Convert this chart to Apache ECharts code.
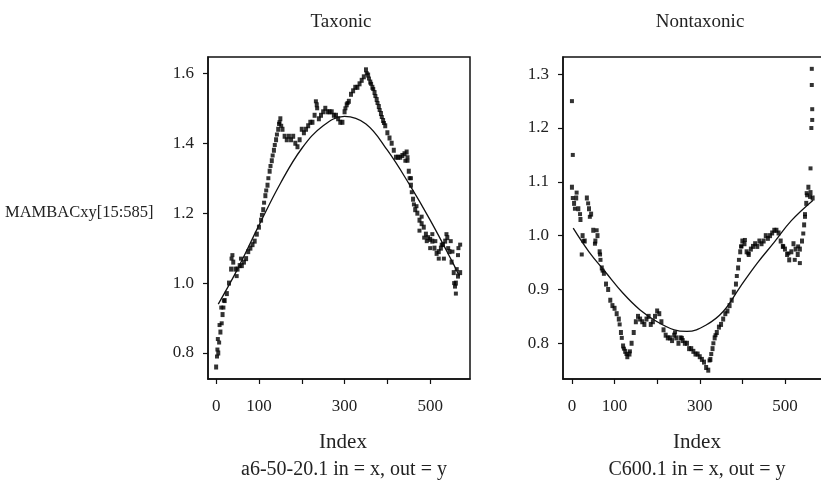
<!DOCTYPE html>
<html>
<head>
<meta charset="utf-8">
<script src="https://cdn.jsdelivr.net/npm/echarts@6/dist/echarts.min.js"></script>
<style>
html,body{margin:0;padding:0;background:#fff;}
#chart{width:821px;height:486px;}
</style>
</head>
<body>
<div id="chart"></div>
<script>
// ---- Titles / labels ----
const panelTitles = ["Taxonic", "Nontaxonic"];
const xAxisName = "Index";
const panelCaptions = ["a6-50-20.1 in = x, out = y", "C600.1 in = x, out = y"];
const yAxisName = "MAMBACxy[15:585]";

// ---- Tick values ----
const xTickValues = [0, 100, 200, 300, 400, 500];
const xLabelValues = [0, 100, 300, 500];
const leftYTicks = [0.8, 1.0, 1.2, 1.4, 1.6];
const rightYTicks = [0.8, 0.9, 1.0, 1.1, 1.2, 1.3];

// ---- Taxonic (left) MAMBAC points [index, value] ----
const leftPoints = [
[0,0.76],[5,0.80],[10,0.86],[15,0.91],[20,0.95],[25,0.97],[30,1.00],[35,1.04],[40,1.06],[45,1.04],
[50,1.04],[55,1.05],[60,1.05],[65,1.06],[70,1.07],[75,1.09],[80,1.10],[85,1.11],[90,1.12],[95,1.14],
[100,1.16],[105,1.18],[110,1.21],[115,1.25],[120,1.28],[125,1.32],[130,1.35],[135,1.38],[140,1.41],[145,1.44],
[150,1.47],[155,1.44],[160,1.42],[165,1.41],[170,1.42],[175,1.41],[180,1.42],[185,1.40],[190,1.39],[195,1.41],
[200,1.44],[205,1.43],[210,1.44],[215,1.45],[220,1.46],[225,1.46],[230,1.48],[235,1.51],[240,1.47],[245,1.48],
[250,1.49],[255,1.50],[260,1.49],[265,1.49],[270,1.49],[275,1.48],[280,1.48],[285,1.47],[290,1.46],[295,1.46],
[300,1.49],[305,1.51],[310,1.52],[315,1.54],[320,1.55],[325,1.56],[330,1.56],[335,1.57],[340,1.58],[345,1.59],
[350,1.61],[355,1.595],[360,1.575],[365,1.56],[370,1.545],[375,1.525],[380,1.505],[385,1.485],[390,1.465],[395,1.45],
[400,1.43],[405,1.415],[410,1.40],[415,1.38],[420,1.36],[425,1.36],[430,1.36],[435,1.365],[440,1.37],[445,1.375],
[450,1.32],[455,1.28],[460,1.24],[465,1.21],[470,1.20],[475,1.18],[480,1.17],[485,1.16],[490,1.14],[495,1.13],
[500,1.125],[505,1.12],[510,1.10],[515,1.085],[520,1.09],[525,1.10],[530,1.11],[535,1.12],[540,1.13],[545,1.09],
[550,1.06],[555,1.03],[560,1.00],[565,1.02],[570,1.03]
];
const leftExtra = [
[2,0.79],[3,0.81],[4,0.84],[7,0.83],[8,0.88],[12,0.93],[13,0.885],[17,0.93],[18,0.95],[36,1.07],[38,1.08],[48,1.02],[58,1.07],
[107,1.195],[112,1.23],[117,1.265],[122,1.30],[127,1.335],[132,1.365],[137,1.395],[142,1.425],[147,1.455],
[148,1.46],[152,1.45],[233,1.52],[236,1.50],[302,1.50],[307,1.515],
[352,1.60],[357,1.585],[362,1.57],[367,1.555],[372,1.535],[377,1.515],[382,1.495],[387,1.475],[392,1.458],
[442,1.35],[447,1.36],[447,1.35],[452,1.30],[455,1.30],[457,1.26],[462,1.225],[468,1.22],[475,1.15],[480,1.19],
[486,1.13],[492,1.12],[500,1.10],[505,1.14],[512,1.12],[520,1.07],[527,1.11],[532,1.07],[538,1.14],[542,1.10],
[548,1.12],[552,1.09],[556,1.00],[558,0.99],[560,0.97],[562,1.04],[565,1.08],[566,1.10],[570,1.11]
];
// fitted curve (left)
const leftFit = [
[5,0.94],[50,1.04],[100,1.165],[150,1.285],[200,1.385],[250,1.45],[300,1.477],[350,1.455],
[400,1.38],[450,1.285],[500,1.18],[550,1.065],[568,1.02]
];

// ---- Nontaxonic (right) MAMBAC points [index, value] ----
const rightPoints = [
[0,1.09],[5,1.06],[10,1.07],[15,1.05],[20,1.03],[25,1.00],[30,0.99],[35,1.07],[40,1.05],[45,1.04],
[50,1.01],[55,0.99],[60,1.00],[65,0.97],[70,0.94],[75,0.93],[80,0.91],[85,0.90],[90,0.88],[95,0.87],
[100,0.865],[105,0.855],[110,0.845],[115,0.82],[120,0.795],[125,0.785],[130,0.775],[135,0.78],[140,0.80],[145,0.82],
[150,0.84],[155,0.85],[160,0.845],[165,0.84],[170,0.835],[175,0.845],[180,0.85],[185,0.835],[190,0.84],[195,0.85],
[200,0.86],[205,0.855],[210,0.84],[215,0.825],[220,0.815],[225,0.81],[230,0.81],[235,0.805],[240,0.815],[245,0.81],
[250,0.80],[255,0.81],[260,0.805],[265,0.80],[270,0.80],[275,0.79],[280,0.79],[285,0.785],[290,0.78],[295,0.78],
[300,0.775],[305,0.77],[310,0.765],[315,0.755],[320,0.75],[325,0.77],[330,0.79],[335,0.81],[340,0.82],[345,0.83],
[350,0.835],[355,0.845],[360,0.855],[365,0.86],[370,0.87],[375,0.88],[380,0.895],[385,0.91],[390,0.94],[395,0.97],
[400,0.99],[405,0.985],[410,0.97],[415,0.965],[420,0.975],[425,0.98],[430,0.985],[435,0.98],[440,0.99],[445,0.985],
[450,0.99],[455,1.00],[460,0.995],[465,1.00],[470,1.005],[475,1.01],[480,1.01],[485,1.005],[490,0.99],[495,0.98],
[500,0.975],[505,0.965],[510,0.955],[515,0.97],[520,0.985],[525,0.975],[530,0.965],[535,0.975],[540,0.99],[545,1.02],
[550,1.06],[555,1.09],[560,1.08],[565,1.07]
];
const rightExtra = [
[0,1.25],[2,1.15],[2,1.07],[7,1.05],[11,1.08],[19,1.04],[23,0.965],[27,0.99],[38,1.06],[42,1.035],
[54,0.985],[58,1.01],[66,0.965],[67,0.955],[72,0.935],[112,0.835],[117,0.81],[122,0.79],[128,0.78],[136,0.785],
[242,0.82],[258,0.81],[323,0.768],[327,0.78],[332,0.80],[337,0.815],[387,0.925],[392,0.955],[397,0.98],
[398,0.98],[406,0.992],[414,0.967],[496,0.98],[508,0.967],[523,0.955],[531,0.98],[535,0.949],[543,1.004],
[547,1.04],[547,1.035],[551,1.079],[552,1.075],[559,1.072],
[560,1.125],[562,1.20],[563,1.31],[563,1.28],[564,1.235],[564,1.215]
];
// fitted curve (right)
const rightFit = [
[3,1.014],[40,0.97],[80,0.931],[120,0.893],[160,0.862],[200,0.84],[240,0.825],[270,0.822],
[315,0.834],[355,0.859],[395,0.905],[435,0.949],[475,0.988],[515,1.028],[566,1.066]
];

const FONT = "Liberation Serif";
const INK = "#111";
const DOT = "#000";

function xAxisCfg(gi, min, max) {
  return {
    gridIndex: gi, type: 'value', min: min, max: max,
    splitLine: {show: false},
    axisLine: {show: true, onZero: false, lineStyle: {color: INK, width: 1.5}},
    axisTick: {show: true, customValues: xTickValues, length: 5, lineStyle: {color: INK, width: 1.2}},
    axisLabel: {customValues: xLabelValues, margin: 19, fontFamily: FONT, fontSize: 17, color: '#222'}
  };
}
function yAxisCfg(gi, min, max, ticks) {
  return {
    gridIndex: gi, type: 'value', min: min, max: max,
    splitLine: {show: false},
    axisLine: {show: true, onZero: false, lineStyle: {color: INK, width: 1.5}},
    axisTick: {show: true, customValues: ticks, length: 5, lineStyle: {color: INK, width: 1.2}},
    axisLabel: {customValues: ticks, margin: 14, fontFamily: FONT, fontSize: 17, color: '#222',
      formatter: v => v.toFixed(1)}
  };
}
function scatter(xi, data, size) {
  return {type: 'scatter', xAxisIndex: xi, yAxisIndex: xi, data: data, symbol: 'rect',
    symbolSize: size, itemStyle: {color: DOT}, silent: true};
}
function fit(xi, data) {
  return {type: 'line', xAxisIndex: xi, yAxisIndex: xi, data: data, smooth: 0.4, showSymbol: false,
    symbol: 'none', lineStyle: {color: INK, width: 1.3}, silent: true, z: 3};
}

const chart = echarts.init(document.getElementById('chart'), null, {renderer: 'canvas'});
const txt = (x, y, s, size) => ({type: 'text', x: x, y: y,
  style: {text: s, font: size + 'px "' + FONT + '"', fill: '#222', align: 'center', verticalAlign: 'middle'}});

chart.setOption({
  animation: false,
  backgroundColor: '#fff',
  grid: [
    {left: 208, top: 57, width: 262, height: 322, show: true, borderColor: INK, borderWidth: 1.5, outerBoundsMode: 'none', containLabel: false},
    {left: 563, top: 57, width: 262, height: 322, show: true, borderColor: INK, borderWidth: 1.5, outerBoundsMode: 'none', containLabel: false}
  ],
  xAxis: [xAxisCfg(0, -19, 593), xAxisCfg(1, -21, 594)],
  yAxis: [yAxisCfg(0, 0.7257, 1.6467, leftYTicks), yAxisCfg(1, 0.7336, 1.332, rightYTicks)],
  series: [
    scatter(0, leftPoints, [4, 5]), scatter(0, leftExtra, [4, 4]), fit(0, leftFit),
    scatter(1, rightPoints, [4, 5]), scatter(1, rightExtra, [4, 4]), fit(1, rightFit)
  ],
  graphic: [
    txt(341, 22, panelTitles[0], 19),
    txt(700, 22, panelTitles[1], 19),
    txt(343, 442, xAxisName, 21),
    txt(697, 442, xAxisName, 21),
    txt(344, 470, panelCaptions[0], 20),
    txt(697, 470, panelCaptions[1], 20),
    {type: 'text', x: 5, y: 213, style: {text: yAxisName, font: '16.5px "' + FONT + '"', fill: '#222', align: 'left', verticalAlign: 'middle'}}
  ]
});
</script>
</body>
</html>
